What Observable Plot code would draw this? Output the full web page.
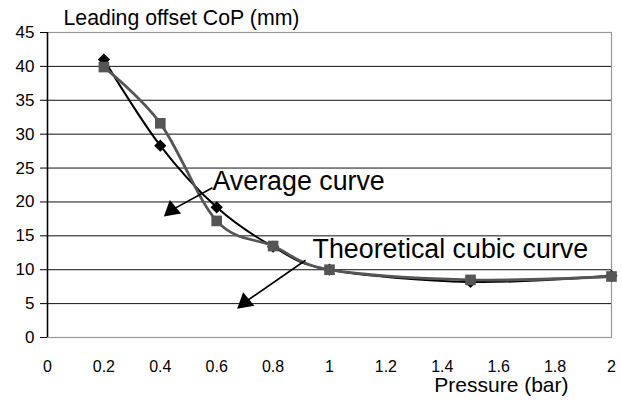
<!DOCTYPE html>
<html>
<head>
<meta charset="utf-8">
<script src="https://cdn.jsdelivr.net/npm/d3@7"></script>
<script src="https://cdn.jsdelivr.net/npm/@observablehq/plot@0.6"></script>
<style>
  html, body { margin: 0; padding: 0; background: #fff; }
  #chart svg { display: block; }
</style>
</head>
<body>
<div id="chart"></div>
<script>
// Data
const pressure = [0.2, 0.4, 0.6, 0.8, 1, 1.5, 2];
const blackSeries = [41, 28.3, 19.2, 13.4, 10, 8.2, 9.1];   // diamonds
const graySeries  = [39.9, 31.6, 17.2, 13.5, 10, 8.5, 9.0]; // squares
const xTicks = [0, 0.2, 0.4, 0.6, 0.8, 1, 1.2, 1.4, 1.6, 1.8, 2];
const yTicks = [0, 5, 10, 15, 20, 25, 30, 35, 40, 45];
const gridY = [5, 10, 15, 20, 25, 30, 35, 40];
const titleText = "Leading offset CoP (mm)";
const xLabelText = "Pressure (bar)";
const annoLabels = ["Average curve", "Theoretical cubic curve"];
const annoLabelX = [0.585, 0.94];
const annoLabelY = [21.8, 11.7];
const arrowFromX = [0.585, 0.915];
const arrowFromY = [22.1, 11.4];
const arrowToX = [0.44, 0.70];
const arrowToY = [18.8, 5.2];

const blackData = pressure.map((p, i) => ({x: p, y: blackSeries[i]}));
const grayData = pressure.map((p, i) => ({x: p, y: graySeries[i]}));
const labels = annoLabels.map((t, i) => ({t, x: annoLabelX[i], y: annoLabelY[i]}));
const arrows = annoLabels.map((t, i) => ({x1: arrowFromX[i], y1: arrowFromY[i], x2: arrowToX[i], y2: arrowToY[i]}));

const font = "'Liberation Sans', Arial, sans-serif";

const chart = Plot.plot({
  width: 622,
  height: 405,
  marginLeft: 47,
  marginRight: 11,
  marginTop: 32,
  marginBottom: 68,
  style: {fontFamily: font, fontSize: "16px", color: "#000", background: "#fff"},
  x: {domain: [0, 2]},
  y: {domain: [0, 45]},
  marks: [
    Plot.ruleY(gridY, {stroke: "#111", strokeWidth: 1}),
    Plot.frame({stroke: "#999", strokeWidth: 1.2}),
    Plot.ruleX([0], {stroke: "#000", strokeWidth: 1.5}),
    Plot.axisY({ticks: yTicks, tickSize: 7, tickPadding: 6, fontSize: 17, label: null, stroke: "#000"}),
    Plot.axisX({ticks: xTicks, tickSize: 0, tickPadding: 23, fontSize: 16, label: null, tickFormat: d => String(d)}),
    Plot.line(blackData, {x: "x", y: "y", curve: "cardinal", stroke: "#000", strokeWidth: 2}),
    Plot.dot(blackData, {x: "x", y: "y", symbol: "diamond2", r: 5.5, fill: "#000"}),
    Plot.line(grayData, {x: "x", y: "y", curve: "cardinal", stroke: "#555", strokeWidth: 2.8}),
    Plot.dot(grayData, {x: "x", y: "y", symbol: "square", r: 6, fill: "#555"}),
    Plot.link(arrows, {x1: "x1", y1: "y1", x2: "x2", y2: "y2", stroke: "#000", strokeWidth: 1.6}),
    Plot.dot(arrows, {x: "x2", y: "y2", symbol: "triangle", r: 6.5, fill: "#000", rotate: -10}),
    Plot.text(labels, {x: "x", y: "y", text: "t", textAnchor: "start", lineAnchor: "bottom", fontSize: 26.8, fill: "#000"}),
    Plot.text([titleText], {frameAnchor: "top-left", dx: 16, dy: -14, textAnchor: "start", lineAnchor: "middle", fontSize: 21.3, fill: "#000"}),
    Plot.text([xLabelText], {frameAnchor: "bottom-right", dx: -43, dy: 48, textAnchor: "end", lineAnchor: "middle", fontSize: 21, fill: "#000"})
  ]
});
document.getElementById("chart").appendChild(chart);
</script>
</body>
</html>
